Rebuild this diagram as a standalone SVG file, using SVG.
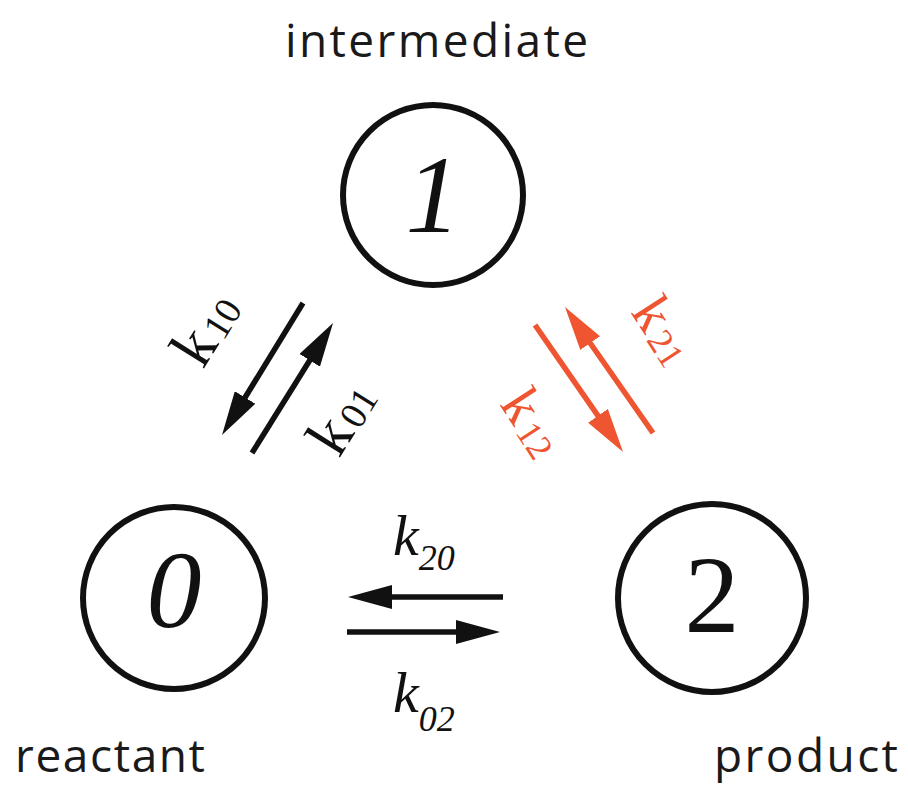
<svg xmlns="http://www.w3.org/2000/svg" width="908" height="787" viewBox="0 0 908 787">
<defs>
<style>
.node{fill:none;stroke:#111;stroke-width:6}
.num{font-family:"Liberation Serif",serif;font-size:110px;fill:#111;text-anchor:middle}
.lbl{font-family:"Open Sans",sans-serif;font-size:46px;fill:#1a1a1a}
.ar{stroke:#111;stroke-width:5.5;fill:none}
.ar-r{stroke:#ee5530;stroke-width:5.5;fill:none}
.rk{font-family:"Liberation Serif",serif;fill:#111}
.rk-r{font-family:"Liberation Serif",serif;fill:#ee5530}
.hk{font-family:"Liberation Serif",serif;font-style:italic;fill:#111}
</style>
<marker id="hb" viewBox="0 0 44 24" refX="19" refY="12" markerWidth="44" markerHeight="24" markerUnits="userSpaceOnUse" orient="auto"><path d="M0,0 L44,12 L0,24 z" fill="#111"/></marker>
<marker id="hr" viewBox="0 0 44 24" refX="19" refY="12" markerWidth="44" markerHeight="24" markerUnits="userSpaceOnUse" orient="auto"><path d="M0,0 L44,12 L0,24 z" fill="#ee5530"/></marker>
</defs>
<rect width="908" height="787" fill="#fff"/>
<g id="node1">
<circle class="node" cx="433" cy="195" r="90"/>
<text class="num" x="433" y="232" font-style="italic">1</text>
<text class="lbl" x="285" y="57" textLength="303">intermediate</text>
</g>
<g id="node0">
<circle class="node" cx="174" cy="598" r="91"/>
<text class="num" x="174" y="627" font-style="italic">0</text>
<text class="lbl" x="15" y="772" textLength="190">reactant</text>
</g>
<g id="node2">
<circle class="node" cx="712" cy="598" r="94"/>
<text class="num" x="712" y="632">2</text>
<text class="lbl" x="714" y="772" textLength="184">product</text>
</g>
<g id="connectors">
<line class="ar" x1="303" y1="303" x2="235.1" y2="413.7" marker-end="url(#hb)"/>
<line class="ar" x1="252" y1="453" x2="319.8" y2="344.2" marker-end="url(#hb)"/>
<line class="ar-r" x1="535" y1="325" x2="608.8" y2="431.4" marker-end="url(#hr)"/>
<line class="ar-r" x1="653" y1="433" x2="579.3" y2="327.5" marker-end="url(#hr)"/>
<line class="ar" x1="503" y1="597" x2="373" y2="597" marker-end="url(#hb)"/>
<line class="ar" x1="347" y1="632" x2="475" y2="632" marker-end="url(#hb)"/>
</g>
<g id="labels">
<text class="rk" transform="translate(203,370) rotate(-58)"><tspan font-size="62">k</tspan><tspan font-size="38" dx="4" dy="2">10</tspan></text>
<text class="rk" transform="translate(339,459) rotate(-58)"><tspan font-size="62">k</tspan><tspan font-size="38" dx="4" dy="2">01</tspan></text>
<text class="rk-r" transform="translate(630,312) rotate(57)"><tspan font-size="56">k</tspan><tspan font-size="36" dx="4" dy="2">21</tspan></text>
<text class="rk-r" transform="translate(499,404) rotate(57)"><tspan font-size="56">k</tspan><tspan font-size="36" dx="4" dy="2">12</tspan></text>
<text class="hk" x="393" y="555"><tspan font-size="58">k</tspan><tspan font-size="36" dy="15">20</tspan></text>
<text class="hk" x="393" y="712"><tspan font-size="58">k</tspan><tspan font-size="36" dy="19">02</tspan></text>
</g>
</svg>
